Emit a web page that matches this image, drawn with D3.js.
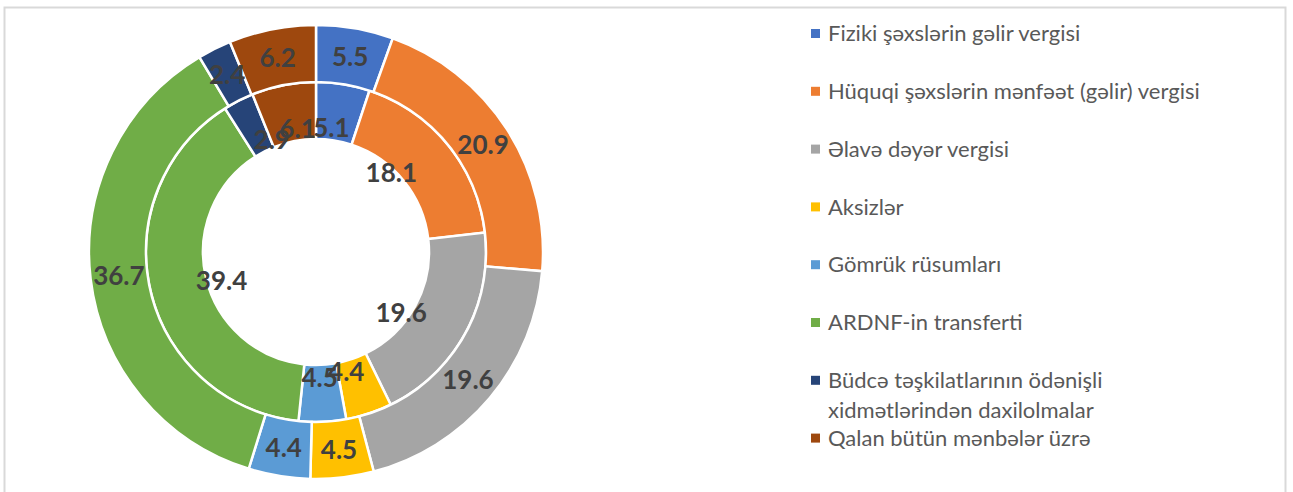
<!DOCTYPE html>
<html>
<head>
<meta charset="utf-8">
<script src="https://cdn.jsdelivr.net/npm/d3@7"></script>
<style>
  body { margin: 0; background: #fff; }
  svg { display: block; }
  .slice-label { font-family: Lato, "Open Sans", sans-serif; font-weight: 700; font-size: 26px; fill: #404040; }
  .legend-text { font-family: Lato, "Open Sans", sans-serif; font-size: 22px; fill: #595959; }
</style>
</head>
<body>
<div id="chart"></div>
<script>
// Data
const categories = [
  'Fiziki şəxslərin gəlir vergisi',
  'Hüquqi şəxslərin mənfəət (gəlir) vergisi',
  'Əlavə dəyər vergisi',
  'Aksizlər',
  'Gömrük rüsumları',
  'ARDNF-in transferti',
  'Büdcə təşkilatlarının ödənişli xidmətlərindən daxilolmalar',
  'Qalan bütün mənbələr üzrə'
];
const outerValues = [5.5, 20.9, 19.6, 4.5, 4.4, 36.7, 2.4, 6.2];
const innerValues = [5.1, 18.1, 19.6, 4.4, 4.5, 39.4, 2.9, 6.1];
const colors = ['#4472C4', '#ED7D31', '#A5A5A5', '#FFC000', '#5B9BD5', '#70AD47', '#264478', '#9E480E'];

const width = 1293;
const height = 492;
const cx = 316, cy = 252;
const rHole = 113, rMid = 170, rOuter = 227;

const svg = d3.select('#chart')
  .append('svg')
  .attr('width', width)
  .attr('height', height);

// chart area border
svg.append('rect')
  .attr('x', 4.5)
  .attr('y', 7.5)
  .attr('width', 1281)
  .attr('height', 500)
  .attr('fill', 'none')
  .attr('stroke', '#d9d9d9')
  .attr('stroke-width', 2);

const pie = d3.pie().sort(null).value(d => d);
const color = d3.scaleOrdinal().domain(categories).range(colors);

const g = svg.append('g').attr('transform', `translate(${cx},${cy})`);

const rings = [
  { values: innerValues, inner: rHole, outer: rMid, name: 'inner' },
  { values: outerValues, inner: rMid, outer: rOuter, name: 'outer' }
];

rings.forEach(ring => {
  const arc = d3.arc().innerRadius(ring.inner).outerRadius(ring.outer);
  const arcs = pie(ring.values);

  g.append('g')
    .selectAll('path')
    .data(arcs)
    .join('path')
    .attr('d', arc)
    .attr('fill', (d, i) => color(categories[i]))
    .attr('stroke', '#fff')
    .attr('stroke-width', 2.5);

  ring.arcs = arcs;
  ring.arc = arc;
});

// labels drawn after both rings so they sit on top
rings.forEach(ring => {
  g.append('g')
    .selectAll('text')
    .data(ring.arcs)
    .join('text')
    .attr('class', 'slice-label')
    .attr('text-anchor', 'middle')
    .attr('dy', '0.36em')
    .attr('transform', d => {
      if (ring.name === 'outer') {
        const [x, y] = ring.arc.centroid(d);
        return `translate(${x},${y})`;
      }
      // inner ring labels sit closer to the hole (Excel style)
      const a = (d.startAngle + d.endAngle) / 2;
      return `translate(${97 * Math.sin(a)},${-126 * Math.cos(a)})`;
    })
    .text(d => d3.format('.1f')(d.data));
});

// Legend
const legend = svg.append('g').attr('transform', 'translate(811,33.5)');
const rowStep = 57.8;
const legendLines = [
  ['Fiziki şəxslərin gəlir vergisi'],
  ['Hüquqi şəxslərin mənfəət (gəlir) vergisi'],
  ['Əlavə dəyər vergisi'],
  ['Aksizlər'],
  ['Gömrük rüsumları'],
  ['ARDNF-in transferti'],
  ['Büdcə təşkilatlarının ödənişli', 'xidmətlərindən daxilolmalar'],
  ['Qalan bütün mənbələr üzrə']
];

categories.forEach((c, i) => {
  const item = legend.append('g').attr('transform', `translate(0,${i * rowStep})`);
  item.append('rect')
    .attr('x', 0)
    .attr('y', -4.5)
    .attr('width', 9)
    .attr('height', 9)
    .attr('fill', color(c));
  const t = item.append('text')
    .attr('class', 'legend-text')
    .attr('x', 17)
    .attr('y', 0);
  legendLines[i].forEach((line, j) => {
    t.append('tspan')
      .attr('x', 17)
      .attr('dy', j === 0 ? '0.35em' : 30)
      .text(line);
  });
});
</script>
</body>
</html>
